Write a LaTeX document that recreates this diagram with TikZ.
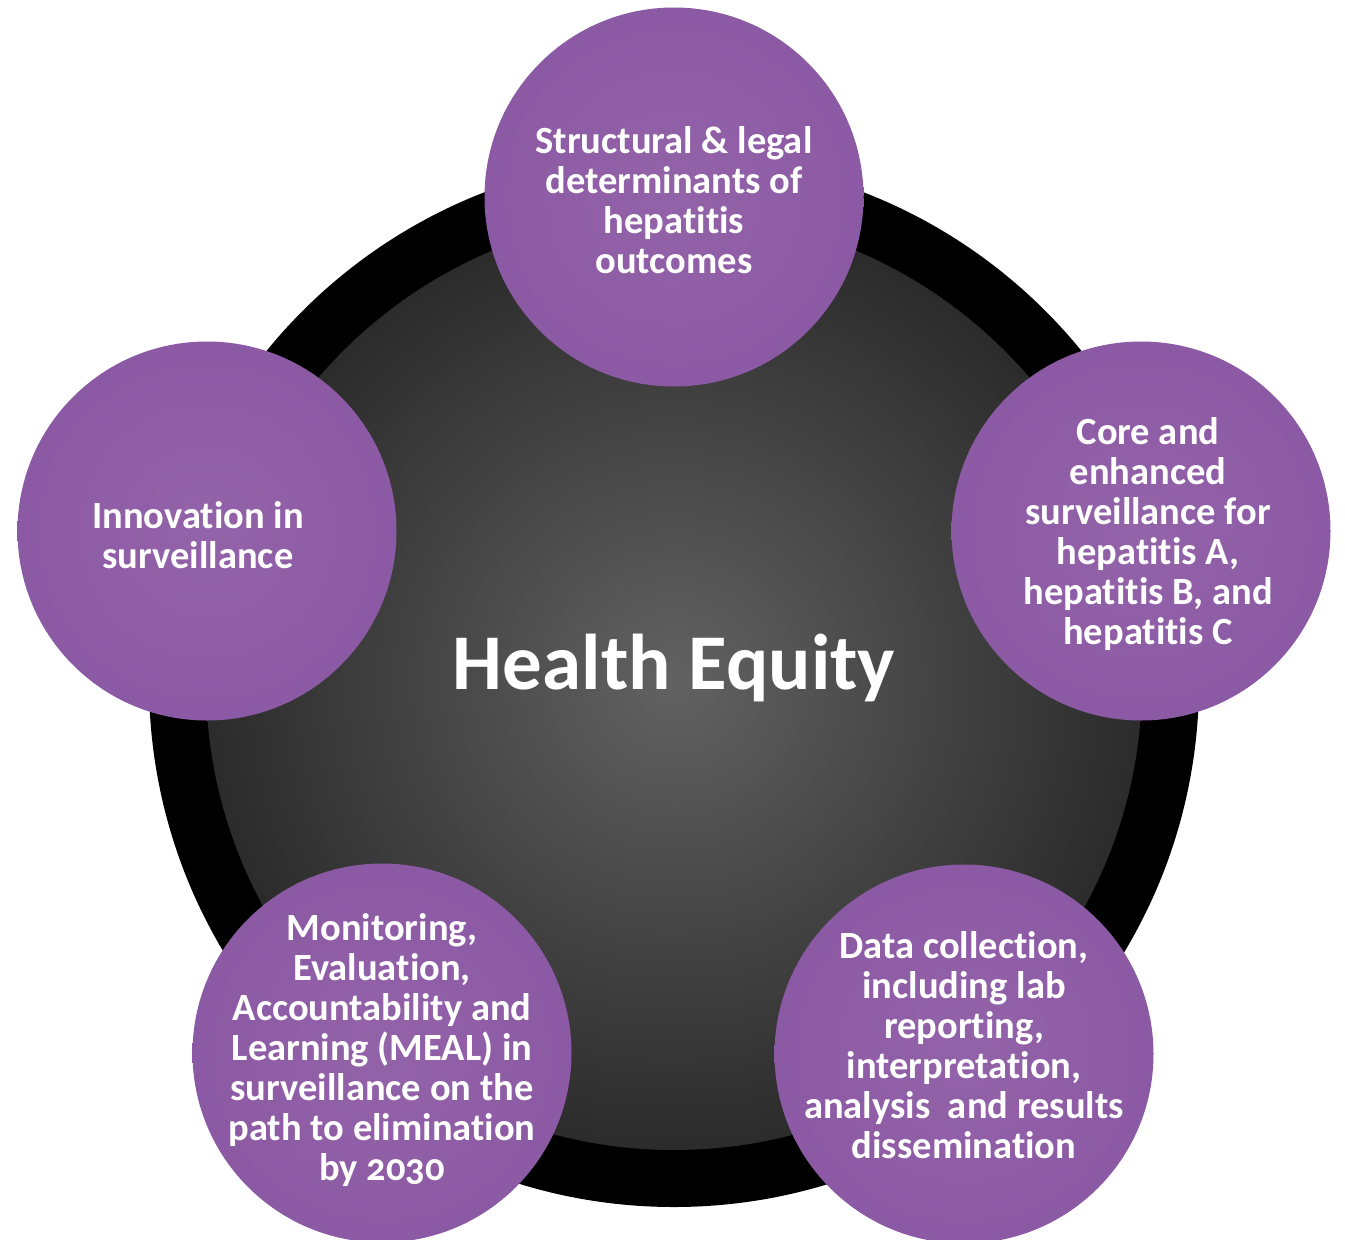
\documentclass[tikz,border=0pt]{standalone}
\usepackage{fontspec}
\setmainfont{Carlito}[Ligatures=NoCommon]
\usepackage{tikz}

\definecolor{purplelight}{RGB}{147,99,169}
\definecolor{purpledark}{RGB}{132,80,158}
\definecolor{coremid}{RGB}{98,98,98}
\definecolor{coreedge}{RGB}{28,28,28}

\pgfdeclareradialshading{purpleglow}{\pgfpoint{0bp}{0bp}}{color(0bp)=(purplelight); color(50bp)=(purpledark)}
\pgfdeclareradialshading{coreglow}{\pgfpoint{0bp}{0bp}}{color(0bp)=(coremid); color(32bp)=(coreedge); color(50bp)=(coreedge)}

\begin{document}
\begin{tikzpicture}[x=1pt,y=-1pt]

      \useasboundingbox (0,0) rectangle (1345,1240);

      % the dark disc in the middle
      \node[circle,inner sep=0pt,minimum size=1050pt,fill=black] (ring) at (674,682) {};
      \node[circle,inner sep=0pt,minimum size=936pt,shade,shading=coreglow] (core) at (674,682) {};
      \node[text=white,font=\bfseries\fontsize{79}{90}\selectfont] (equity) at (674,668) {Health Equity};

      \begin{scope}[every node/.style={circle,inner sep=0pt,minimum size=379pt,shade,shading=purpleglow}]
        \node (structural) at (674,197) {};
        \node (surv) at (1141,531) {};
        \node (data) at (964,1054) {};
        \node (meal) at (382,1053) {};
        \node (innovation) at (207,531) {};
      \end{scope}

      \begin{scope}[every node/.style={text=white,align=center,font=\bfseries\fontsize{38.5}{40}\selectfont}]
        \node (structural text) at ([yshift=-3pt]structural) {Structural \& legal\\determinants of\\hepatitis\\outcomes};
        \node (surv text) at ([xshift=7pt,yshift=-3pt]surv) {Core and\\enhanced\\surveillance for\\hepatitis A,\\hepatitis B, and\\hepatitis C};
        \node (data text) at ([yshift=9pt]data) {Data collection,\\including lab\\reporting,\\interpretation,\\analysis~ and results\\dissemination};
        \node (meal text) at ([yshift=3pt]meal) {Monitoring,\\Evaluation,\\Accountability and\\Learning (MEAL) in\\surveillance on the\\path to elimination\\by {\addfontfeature{Numbers=OldStyle}2030}};
        \node (innovation text) at ([xshift=-9pt,yshift=-4pt]innovation) {Innovation in\\surveillance};
      \end{scope}

    \end{tikzpicture}
\end{document}
